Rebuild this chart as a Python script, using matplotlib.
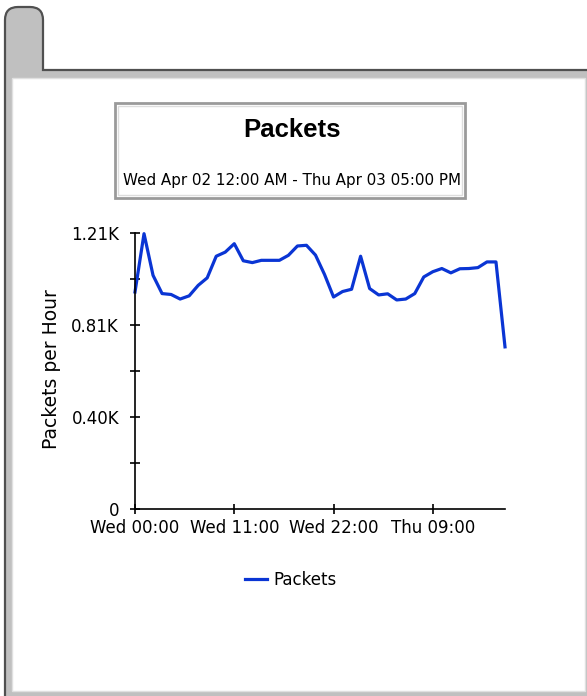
import matplotlib
matplotlib.use('Agg')
import matplotlib.pyplot as plt
from matplotlib.patches import Rectangle, PathPatch
from matplotlib.path import Path

# hours since Wed Apr 02 00:00
hours = list(range(42))
packets = [953, 1209, 1026, 946, 942, 922, 936, 982, 1015, 1110,
           1128, 1165, 1090, 1082, 1092, 1092, 1092, 1114, 1155, 1158,
           1115, 1030, 931, 955, 965, 1110, 968, 940, 945, 918,
           922, 946, 1019, 1042, 1056, 1037, 1055, 1056, 1060, 1085,
           1085, 712]

x_ticks = [0, 11, 22, 33]
x_labels = ['Wed 00:00', 'Wed 11:00', 'Wed 22:00', 'Thu 09:00']
y_max = 1212
y_ticks = [0, y_max / 3, 2 * y_max / 3, y_max]
y_labels = ['0', '0.40K', '0.81K', '1.21K']

W, H = 587, 696
fig = plt.figure(figsize=(W / 100, H / 100), dpi=100)
fig.patch.set_facecolor('white')

# background frame, drawn in pixel coordinates
bg = fig.add_axes([0, 0, 1, 1], zorder=0)
bg.set_xlim(0, W)
bg.set_ylim(H, 0)
bg.axis('off')
gray = '#c0c0c0'
dark = '#505050'

# gray tab + bands
fill_verts = [(5, H), (5, 20), (5, 7), (18, 7), (30, 7), (43, 7), (43, 20),
              (43, 70), (W, 70), (W, H), (5, H)]
fill_codes = [Path.MOVETO, Path.LINETO, Path.CURVE3, Path.CURVE3, Path.LINETO,
              Path.CURVE3, Path.CURVE3, Path.LINETO, Path.LINETO, Path.LINETO,
              Path.CLOSEPOLY]
bg.add_patch(PathPatch(Path(fill_verts, fill_codes), fc=gray, ec='none'))
# white page
bg.add_patch(Rectangle((12, 78), 573, 613, fc='white', ec='#e0e0e0', lw=1))
# dark outline of the tab
line_verts = [(5, H), (5, 20), (5, 7), (18, 7), (30, 7), (43, 7), (43, 20),
              (43, 70), (W, 70)]
line_codes = [Path.MOVETO, Path.LINETO, Path.CURVE3, Path.CURVE3, Path.LINETO,
              Path.CURVE3, Path.CURVE3, Path.LINETO, Path.LINETO]
bg.add_patch(PathPatch(Path(line_verts, line_codes), fc='none', ec=dark, lw=1.6))

# title box
bg.add_patch(Rectangle((115, 103), 350, 95, fc='white', ec='#9a9a9a', lw=2))
bg.add_patch(Rectangle((118, 106), 344, 89, fc='none', ec='#dddddd', lw=1))
bg.text(292, 130, 'Packets', ha='center', va='center', fontsize=18.5,
        fontweight='bold', family='Liberation Sans')
bg.text(292, 181, 'Wed Apr 02 12:00 AM - Thu Apr 03 05:00 PM', ha='center',
        va='center', fontsize=10.9, family='DejaVu Sans')

# chart
ax = fig.add_axes([135 / W, 1 - 509 / H, 370 / W, 276 / H], zorder=1)
ax.patch.set_alpha(0)
ax.plot(hours, packets, color='#0a35d4', lw=2.3, label='Packets', clip_on=False)
ax.set_xlim(0, 41)
ax.set_ylim(0, y_max)
for s in ['top', 'right']:
    ax.spines[s].set_visible(False)
for s in ['left', 'bottom']:
    ax.spines[s].set_linewidth(1.2)
ax.set_xticks(x_ticks)
ax.set_xticklabels(x_labels)
ax.set_yticks(y_ticks)
ax.set_yticklabels(y_labels)
ax.set_yticks([y_max / 6, y_max / 2, 5 * y_max / 6], minor=True)
ax.tick_params(axis='both', which='both', direction='inout', length=7, width=1.2,
               labelsize=12, colors='black')
ax.tick_params(axis='x', pad=4)
ax.tick_params(axis='y', pad=8)
ax.set_ylabel('Packets per Hour', fontsize=13.5)
ax.yaxis.label.set_verticalalignment('center')
ax.yaxis.set_label_coords((52 - 135) / 370, 0.507)

fig.legend(loc='center', bbox_to_anchor=(291 / W, 1 - 580 / H), frameon=False,
           fontsize=12, handlelength=1.3, handletextpad=0.4)

fig.savefig('out.png', dpi=100)
